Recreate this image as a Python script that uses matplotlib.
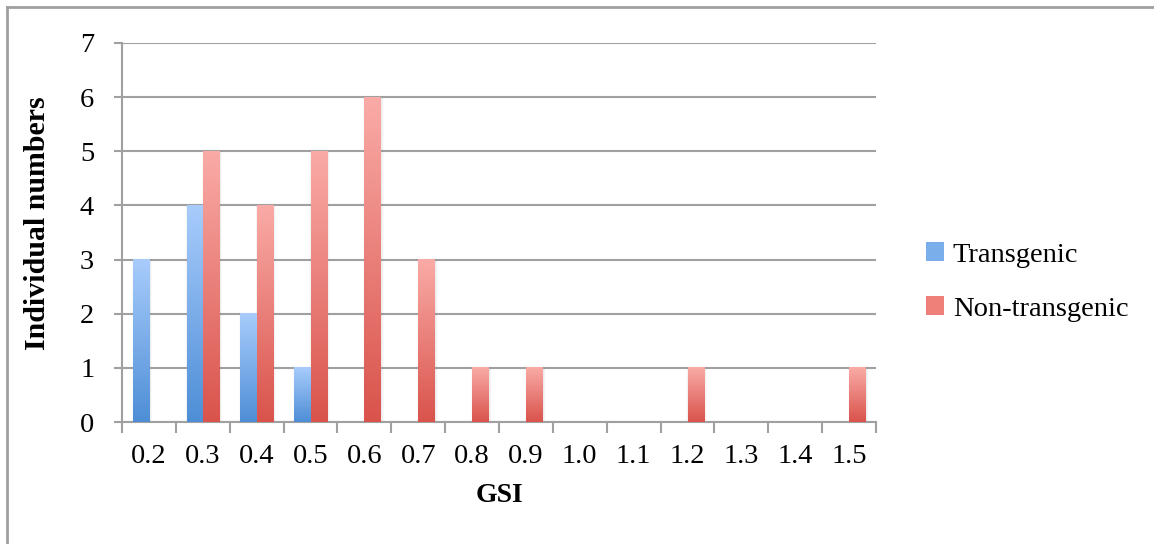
import matplotlib
matplotlib.use("Agg")
import matplotlib.pyplot as plt
import numpy as np
from matplotlib.patches import Patch
from matplotlib.lines import Line2D
from matplotlib.colors import LinearSegmentedColormap

categories = ["0.2", "0.3", "0.4", "0.5", "0.6", "0.7", "0.8", "0.9", "1.0", "1.1", "1.2", "1.3", "1.4", "1.5"]
transgenic = [3, 4, 2, 1, 0, 0, 0, 0, 0, 0, 0, 0, 0, 0]
non_transgenic = [0, 5, 4, 5, 6, 3, 1, 1, 0, 0, 1, 0, 0, 1]
series_names = ["Transgenic", "Non-transgenic"]
y_ticks = [0, 1, 2, 3, 4, 5, 6, 7]

plt.rcParams['font.family'] = ['Liberation Serif', 'DejaVu Serif']

W, H = 1154, 544
fig = plt.figure(figsize=(W / 100, H / 100), dpi=100)
ax = fig.add_axes([122 / W, 1 - 422 / H, (876 - 122) / W, (422 - 43) / H])

x = np.arange(len(categories))
bw = 0.3
blue_cmap = LinearSegmentedColormap.from_list("b", ["#4e8ed6", "#a8ccfc"])
red_cmap = LinearSegmentedColormap.from_list("r", ["#d9534b", "#faaba7"])

grad = np.linspace(0, 1, 256).reshape(-1, 1)

def gradient_bars(xs, vals, cmap, label):
    bars = ax.bar(xs, vals, width=bw, color="none", edgecolor="none", label=label, zorder=3)
    for b in bars:
        h = b.get_height()
        if h <= 0:
            continue
        x0 = b.get_x()
        w = b.get_width()
        # soft shadow
        for k, a in [(0.08, 0.04), (0.05, 0.05), (0.02, 0.06)]:
            ax.bar(x0 + w / 2 + 0.02, h + 0.02, width=w + k, bottom=-0.01,
                   color="#808080", alpha=a, edgecolor="none", zorder=2)
        ax.imshow(grad, cmap=cmap, origin="lower", aspect="auto",
                  extent=(x0, x0 + w, 0, h), zorder=3, interpolation="bilinear")
    return bars

gradient_bars(x - bw / 2, transgenic, blue_cmap, series_names[0])
gradient_bars(x + bw / 2, non_transgenic, red_cmap, series_names[1])

ax.set_xlim(-0.5, len(categories) - 0.5)
ax.set_ylim(0, 7)
ax.set_yticks(y_ticks)
ax.set_yticklabels([str(v) for v in y_ticks], fontsize=20.5)
ax.set_xticks(x)
ax.set_xticklabels(categories, fontsize=20.5)
ax.set_xticks(np.arange(len(categories) + 1) - 0.5, minor=True)
ax.tick_params(axis="x", which="major", length=0, pad=16)
ax.tick_params(axis="x", which="minor", length=8, width=1.5, color="#a0a0a0")
ax.tick_params(axis="y", length=6, width=1.5, color="#a0a0a0", pad=14)

ax.grid(axis="y", color="#a0a0a0", linewidth=1.5, zorder=0)
ax.set_axisbelow(True)
for s in ["top", "right"]:
    ax.spines[s].set_visible(False)
for s in ["left", "bottom"]:
    ax.spines[s].set_color("#a0a0a0")
    ax.spines[s].set_linewidth(1.5)

ax.set_xlabel("GSI", fontsize=20, fontweight="bold", va="center")
ax.set_ylabel("Individual numbers", fontsize=21.5, fontweight="bold", va="center")
ax.xaxis.set_label_coords(0.5, -(495 - 422) / 379)
ax.yaxis.set_label_coords((38 - 122) / 754, (422 - 223) / 379)

handles = [Patch(facecolor="#7aaeea", edgecolor="none"), Patch(facecolor="#ee7f79", edgecolor="none")]
fig.legend(handles, series_names, loc="center left", bbox_to_anchor=(900 / W, 1 - 282 / H),
           frameon=False, fontsize=20.5, handlelength=0.65, handleheight=0.65,
           handletextpad=0.3, labelspacing=1.0)

# outer border (only top and left visible)
fig.add_artist(Line2D([7 / W, 7 / W], [0, 1 - 7 / H], transform=fig.transFigure, color="#a0a0a0", linewidth=2))
fig.add_artist(Line2D([7 / W, 1], [1 - 7 / H, 1 - 7 / H], transform=fig.transFigure, color="#a0a0a0", linewidth=2))

fig.savefig("out.png", dpi=100)
